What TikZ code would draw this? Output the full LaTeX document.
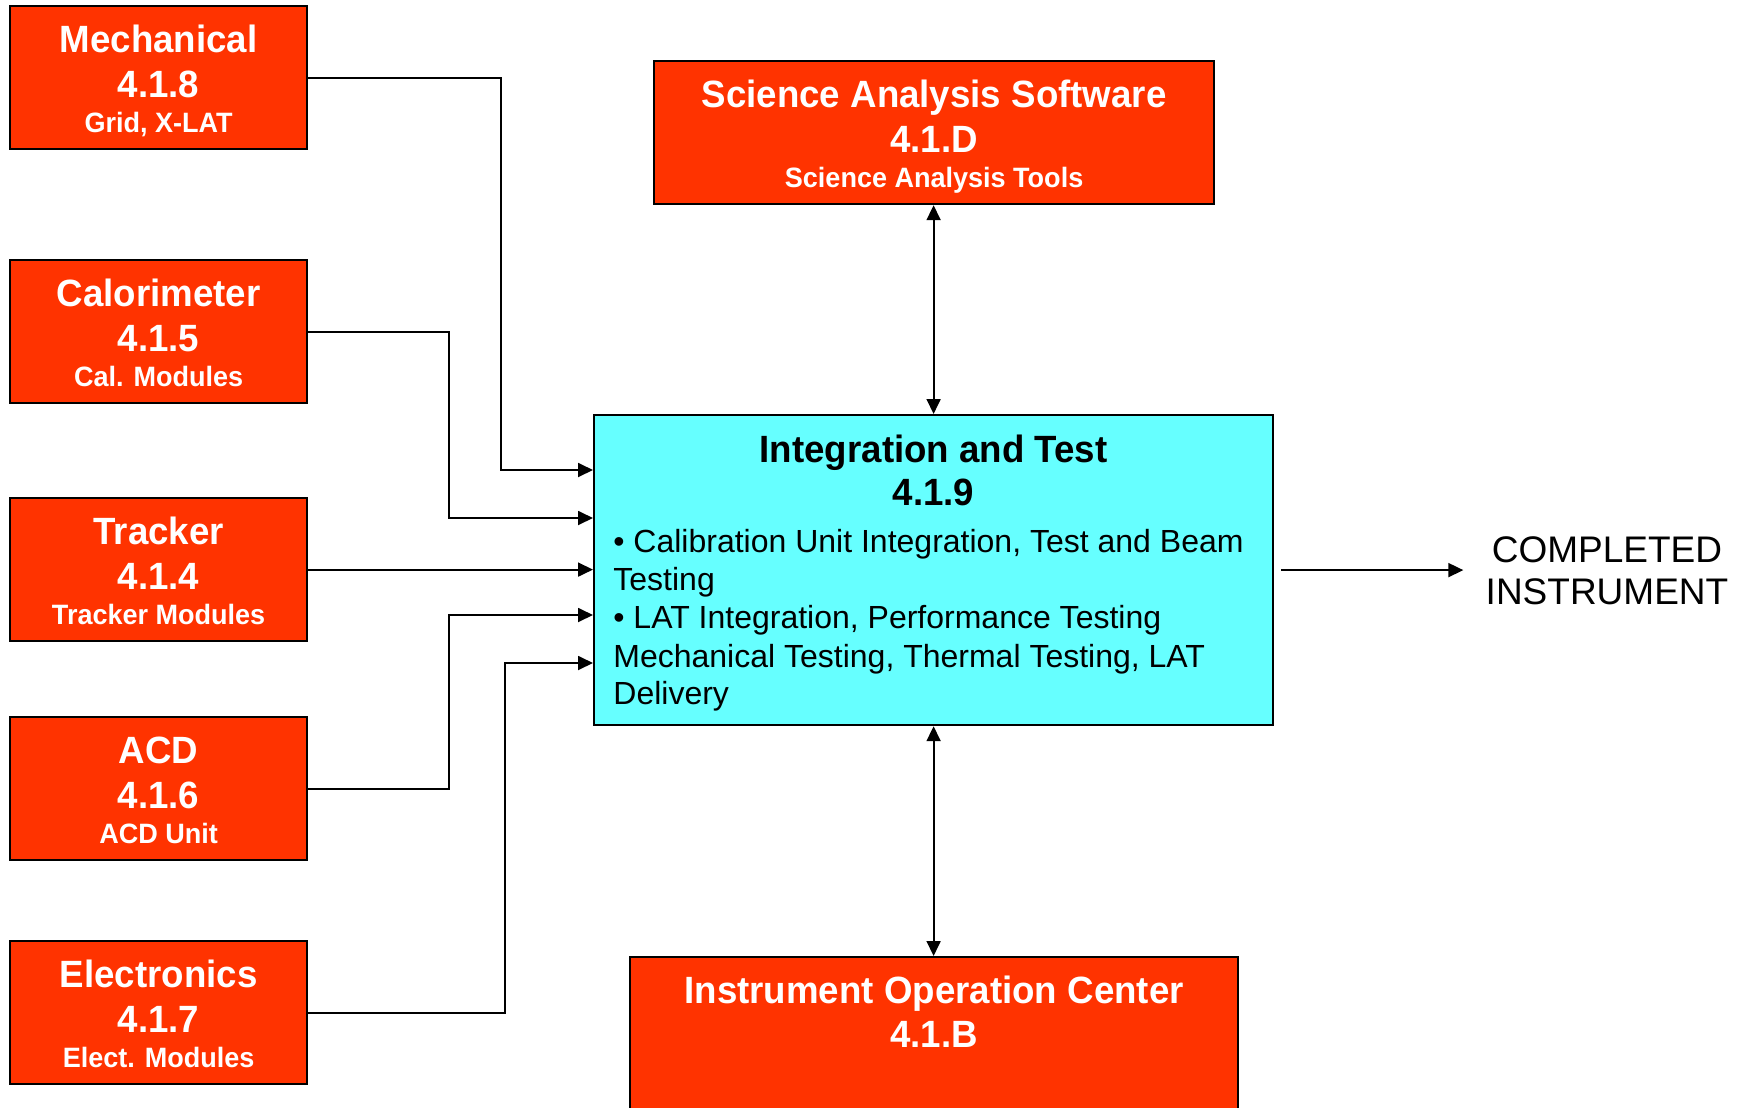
\documentclass[tikz,border=0pt]{standalone}
\usepackage{fontspec}
\setmainfont{Liberation Sans}[BoldFeatures={FakeStretch=0.965}]
\usetikzlibrary{arrows.meta,calc}
\definecolor{wbsred}{RGB}{255,51,0}
\definecolor{itcyan}{RGB}{102,255,255}
\tikzset{
  wbs/.style={draw=black, line width=1.1pt, fill=wbsred, inner sep=0pt, anchor=north west,
              minimum width=148.5pt, minimum height=71.5pt},
  itbox/.style={draw=black, line width=1.1pt, fill=itcyan, inner sep=0pt, anchor=north west},
  ttl/.style={anchor=base, text=white, font=\fontsize{19}{22}\selectfont\bfseries, inner sep=0pt},
  subt/.style={anchor=base, text=white, font=\fontsize{14}{16}\selectfont\bfseries, inner sep=0pt},
  ittl/.style={anchor=base, text=black, font=\fontsize{19}{22}\selectfont\bfseries, inner sep=0pt},
  body/.style={anchor=base west, text=black, font=\fontsize{16}{19}\selectfont, inner sep=0pt},
  conn/.style={draw=black, line width=0.9pt},
  arr/.style={conn, -{Triangle[length=7.5pt,width=7pt]}},
  darr/.style={conn, {Triangle[length=7.5pt,width=7pt]}-{Triangle[length=7.5pt,width=7pt]}},
}
\begin{document}
\begin{tikzpicture}[x=0.5pt,y=-0.5pt]
\useasboundingbox (0,0) rectangle (1746,1108);
\clip (0,0) rectangle (1746,1108);

% left column boxes
\node[wbs] (mech) at (9,5) {};
\node[ttl]  (mechT) at ($(mech.north)+(0,47)$) {Mechanical};
\node[ttl]  (mechN) at ($(mech.north)+(0,92)$) {4.1.8};
\node[subt] (mechS) at ($(mech.north)+(0,127)$) {Grid, X-LAT};

\node[wbs] (cal) at (9,259) {};
\node[ttl]  (calT) at ($(cal.north)+(0,47)$) {Calorimeter};
\node[ttl]  (calN) at ($(cal.north)+(0,92)$) {4.1.5};
\node[subt] (calS) at ($(cal.north)+(0,127)$) {Cal. Modules};

\node[wbs] (trk) at (9,497) {};
\node[ttl]  (trkT) at ($(trk.north)+(0,47)$) {Tracker};
\node[ttl]  (trkN) at ($(trk.north)+(0,92)$) {4.1.4};
\node[subt] (trkS) at ($(trk.north)+(0,127)$) {Tracker Modules};

\node[wbs] (acd) at (9,716) {};
\node[ttl]  (acdT) at ($(acd.north)+(0,47)$) {ACD};
\node[ttl]  (acdN) at ($(acd.north)+(0,92)$) {4.1.6};
\node[subt] (acdS) at ($(acd.north)+(0,127)$) {ACD Unit};

\node[wbs] (ele) at (9,940) {};
\node[ttl]  (eleT) at ($(ele.north)+(0,47)$) {Electronics};
\node[ttl]  (eleN) at ($(ele.north)+(0,92)$) {4.1.7};
\node[subt] (eleS) at ($(ele.north)+(0,127)$) {Elect. Modules};

% Science Analysis Software
\node[wbs, minimum width=280pt] (sas) at (653,60) {};
\node[ttl]  (sasT) at ($(sas.north)+(0,47)$) {Science Analysis Software};
\node[ttl]  (sasN) at ($(sas.north)+(0,92)$) {4.1.D};
\node[subt] (sasS) at ($(sas.north)+(0,127)$) {Science Analysis Tools};

% Integration and Test
\node[itbox, minimum width=339.5pt, minimum height=155pt] (it) at (593,414) {};
\node[ittl] (itT) at ($(it.north)+(0,48)$) {Integration and Test};
\node[ittl] (itN) at ($(it.north)+(0,91)$) {4.1.9};
\node[body] (b1) at ($(it.north west)+(20,138)$) {• Calibration Unit Integration, Test and Beam};
\node[body] (b2) at ($(it.north west)+(20,176)$) {Testing};
\node[body] (b3) at ($(it.north west)+(20,214)$) {• LAT Integration, Performance Testing};
\node[body] (b4) at ($(it.north west)+(20,253)$) {Mechanical Testing, Thermal Testing, LAT};
\node[body] (b5) at ($(it.north west)+(20,290)$) {Delivery};

% Instrument Operation Center
\node[wbs, minimum width=304pt, minimum height=100pt] (ioc) at (629,956) {};
\node[ttl] (iocT) at ($(ioc.north)+(0,47)$) {Instrument Operation Center};
\node[ttl] (iocN) at ($(ioc.north)+(0,91)$) {4.1.B};

% completed instrument
\node[align=center, inner sep=0pt, font=\fontsize{18.5}{21}\selectfont] (ci) at (1607,571)
  {COMPLETED\\INSTRUMENT};

% connectors
\draw[arr] (mech.east) -- ++(193,0) |- ($(it.north west)+(0,56)$);
\draw[arr] (cal.east) -- ++(141,0) |- ($(it.north west)+(0,104)$);
\draw[arr] (trk.east) -- (trk.east -| it.west);
\draw[arr] (acd.east) -- ++(141,0) |- ($(it.north west)+(0,201)$);
\draw[arr] (ele.east) -- ++(197,0) |- ($(it.north west)+(0,249)$);
\draw[darr] (it.north |- sas.south) -- (it.north);
\draw[darr] (it.south) -- (it.south |- ioc.north);
\draw[arr] ([xshift=3.5pt]it.east) -- ([xshift=-11pt]it.east -| ci.west);
\end{tikzpicture}
\end{document}
